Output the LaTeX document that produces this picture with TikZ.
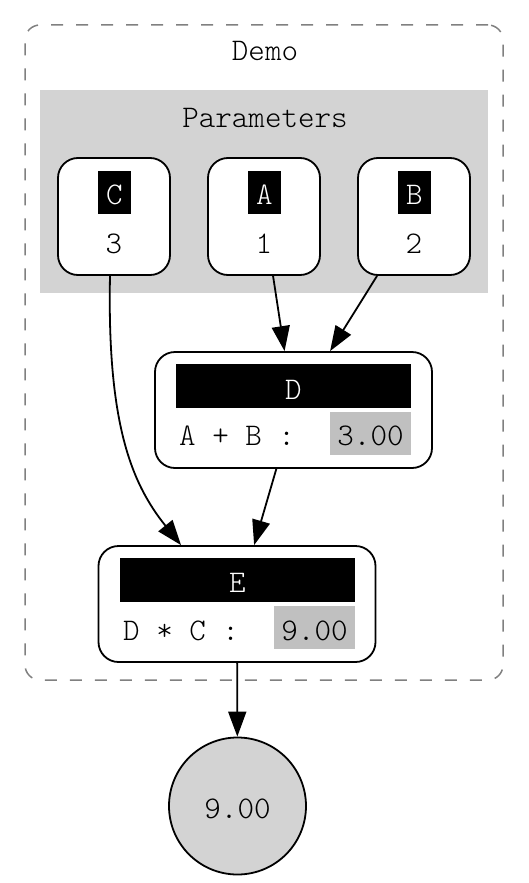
\documentclass[tikz,border=0pt]{standalone}
\usetikzlibrary{arrows.meta}
\definecolor{lgray}{HTML}{D3D3D3}
\definecolor{mgray}{HTML}{C0C0C0}
\definecolor{dgray}{HTML}{808080}
\begin{document}
\begin{tikzpicture}[x=1pt,y=-1pt,
  txt/.style={font=\ttfamily\fontseries{l}\fontsize{31.5}{34}\selectfont, inner sep=0pt, anchor=base},
  wtxt/.style={txt, text=white},
  param/.style={draw, line width=1.8pt, rounded corners=20pt, fill=white, minimum width=112pt, minimum height=117pt, inner sep=0pt},
  rec/.style={draw, line width=1.8pt, rounded corners=20pt, fill=white, minimum width=277pt, minimum height=116pt, inner sep=0pt},
  blk/.style={fill=black, inner sep=0pt, minimum width=33pt, minimum height=43pt},
  bar/.style={fill=black, inner sep=0pt, minimum width=235pt, minimum height=44pt},
  valbox/.style={fill=mgray, inner sep=0pt, minimum width=81pt, minimum height=43pt},
  arr/.style={line width=1.8pt, -{Triangle[length=25pt,width=18pt]}},
  ]
\useasboundingbox (0,0) rectangle (529,883);
% cluster Demo
\node[draw=dgray, line width=1.5pt, dash pattern=on 12pt off 13pt, rounded corners=15pt,
      minimum width=478pt, minimum height=655pt, inner sep=0pt] (demo) at (264,352.5) {};
\node[txt] (demolbl) at (265,61) {Demo};
% cluster Parameters
\node[fill=lgray, minimum width=448pt, minimum height=203pt, inner sep=0pt] (params) at (264,191.5) {};
\node[txt] (paramlbl) at (265,127) {Parameters};
% parameter nodes
\node[param] (C) at (114,216.5) {};
\node[blk] (Cb) at (114.5,192.5) {};
\node[wtxt] (Cl) at (114.5,204) {C};
\node[txt] (Cv) at (114,253) {3};
\node[param] (A) at (264,216.5) {};
\node[blk] (Ab) at (264.5,192.5) {};
\node[wtxt] (Al) at (264.5,204) {A};
\node[txt] (Av) at (264,253) {1};
\node[param] (B) at (414,216.5) {};
\node[blk] (Bb) at (414.5,192.5) {};
\node[wtxt] (Bl) at (414.5,204) {B};
\node[txt] (Bv) at (414,253) {2};
% D
\node[rec] (D) at (293.5,410) {};
\node[bar] (Db) at (293.5,386) {};
\node[wtxt] (Dl) at (293.5,399) {D};
\node[txt, anchor=base west] (Df) at (179,445) {A + B :};
\node[valbox] (Dvb) at (370.5,433.5) {};
\node[txt] (Dv) at (370.5,445) {3.00};
% E
\node[rec] (E) at (237,604) {};
\node[bar] (Eb) at (237.5,580) {};
\node[wtxt] (El) at (237.5,592) {E};
\node[txt, anchor=base west] (Ef) at (123,640) {D * C :};
\node[valbox] (Evb) at (314.5,627.5) {};
\node[txt] (Ev) at (314.5,640) {9.00};
% output
\node[circle, draw, fill=lgray, line width=1.8pt, minimum size=137pt, inner sep=0pt] (out) at (237.5,806) {};
\node[txt] (outl) at (237.5,818) {9.00};
% edges
\draw[arr] (A) -- (D);
\draw[arr] (B) -- (D);
\draw[arr] (D) -- (E);
\draw[arr] (E) -- (out);
\draw[arr] ([xshift=-4pt]C.south) .. controls (107,425) and (132,484) .. ([xshift=-56pt]E.north);
\end{tikzpicture}
\end{document}
